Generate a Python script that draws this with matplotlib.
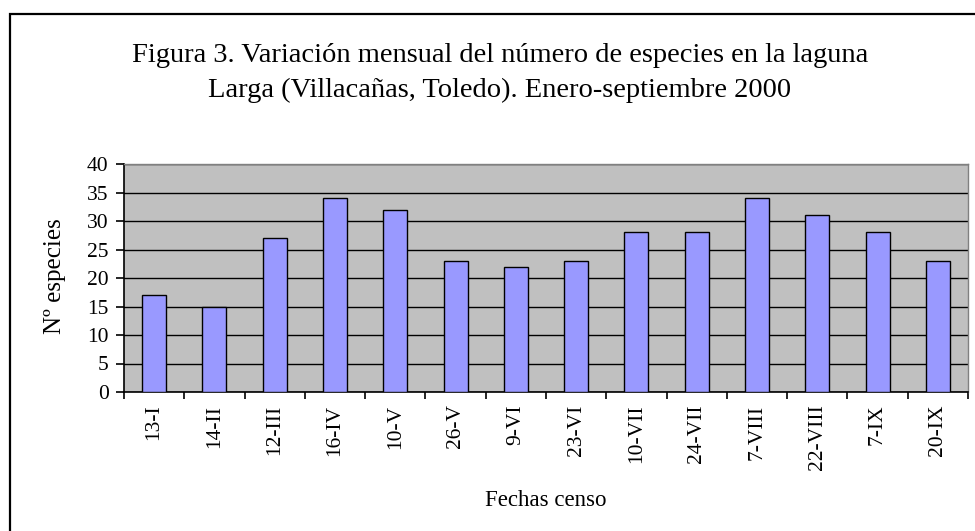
# -*- coding: utf-8 -*-
import numpy as np
import matplotlib
matplotlib.use('Agg')
import matplotlib.pyplot as plt
from matplotlib.patches import Rectangle

fechas = ['13-I', '14-II', '12-III', '16-IV', '10-V', '26-V', '9-VI',
          '23-VI', '10-VII', '24-VII', '7-VIII', '22-VIII', '7-IX', '20-IX']
especies = [17, 15, 27, 34, 32, 23, 22, 23, 28, 28, 34, 31, 28, 23]
yticks = [0, 5, 10, 15, 20, 25, 30, 35, 40]

titulo1 = 'Figura 3. Variación mensual del número de especies en la laguna'
titulo2 = 'Larga (Villacañas, Toledo). Enero-septiembre 2000'

plt.rcParams['font.family'] = ['Liberation Serif', 'DejaVu Serif']

W, H = 975, 531
fig = plt.figure(figsize=(W/100, H/100), dpi=100)

# outer chart frame (right and bottom edges fall outside the picture)
fig.patches.append(Rectangle((10/W, -0.05), 1.0, 1 - 14/H + 0.05,
                             transform=fig.transFigure, fill=False,
                             ec='black', lw=1.6))

ax = fig.add_axes([124/W, 1 - 392/H, (968-124)/W, (392-164)/H])
ax.set_facecolor('#c0c0c0')

x = np.arange(len(fechas))
ax.bar(x, especies, width=0.4, color='#9999ff', edgecolor='black',
       lw=1.0, zorder=3)

ax.set_xlim(-0.5, len(fechas) - 0.5)
ax.set_ylim(0, 40)
ax.set_yticks(yticks)
ax.set_yticklabels([str(v) for v in yticks], fontsize=15.5)
ax.yaxis.grid(True, color='black', lw=1.0, zorder=1)
ax.set_axisbelow(True)

ax.set_xticks(x)
ax.set_xticklabels(fechas, rotation=90, fontsize=15.5)
ax.tick_params(axis='x', length=0, pad=9)
ax.set_xticks(np.arange(-0.5, len(fechas)), minor=True)
ax.tick_params(axis='x', which='minor', length=5, width=1.2, direction='out')
ax.tick_params(axis='y', length=6, width=1.2, direction='out', pad=5)

for s in ['top', 'right']:
    ax.spines[s].set_color('#808080')
    ax.spines[s].set_linewidth(1.0)
for s in ['left', 'bottom']:
    ax.spines[s].set_color('black')
    ax.spines[s].set_linewidth(1.2)

fig.text(55/W, 1 - 276/H, 'Nº especies', rotation=90, ha='center',
         va='center', fontsize=18)
fig.text(546/W, 1 - 500/H, 'Fechas censo', ha='center', va='center',
         fontsize=16.5)
fig.text(500/W, 1 - 62/H, titulo1, ha='center', va='baseline', fontsize=20.5)
fig.text(500/W, 1 - 97/H, titulo2, ha='center', va='baseline', fontsize=20.5)

fig.savefig('out.png', dpi=100)
